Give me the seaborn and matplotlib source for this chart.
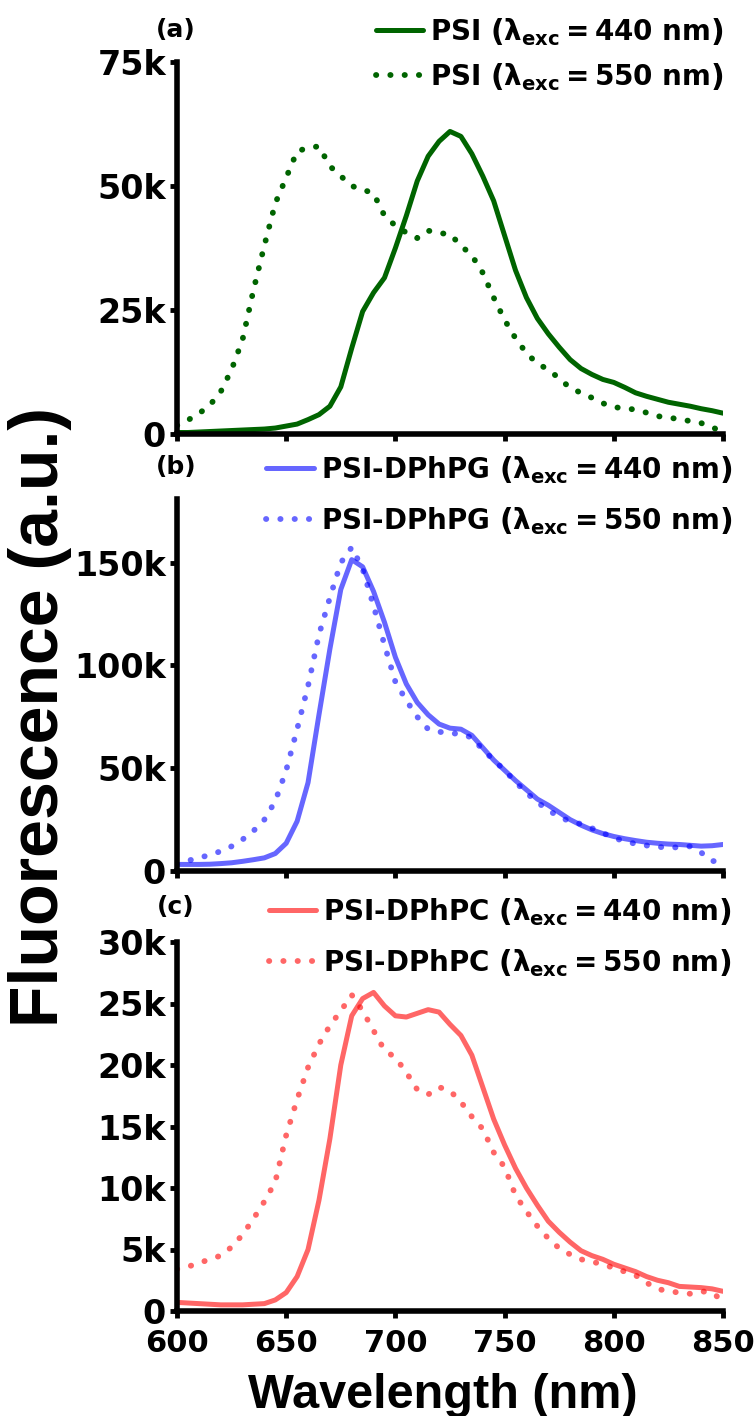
import numpy as np
import pandas as pd
import matplotlib
matplotlib.use("Agg")
import matplotlib.pyplot as plt
from matplotlib.ticker import FuncFormatter
import seaborn as sns

# ---------------- data ----------------
wavelength = list(range(600, 851, 5))

psi_440 = [0.3, 0.3, 0.4, 0.5, 0.6, 0.7, 0.8, 0.9, 1.0, 1.2, 1.6, 2.0, 2.9, 3.9, 5.6, 9.5,
           17.3, 24.7, 28.5, 31.5, 37.5, 44, 51, 56, 59, 61, 60, 56.5, 52, 47, 40, 33,
           27.5, 23.3, 20.2, 17.5, 15, 13.2, 12, 11, 10.4, 9.4, 8.3, 7.6, 7, 6.4, 6, 5.6,
           5.1, 4.7, 4.2]
psi_550 = [1.7, 2.8, 4.1, 5.8, 8.5, 13, 19, 29, 38, 46.5, 51.7, 57, 57.7, 58, 54, 52, 50,
           49.3, 48.5, 44, 42, 40.6, 39.5, 41, 40.5, 40.3, 38, 36, 32.5, 27.5, 23, 19.3,
           16.3, 14.2, 13, 11.2, 9.3, 8.3, 7.3, 6.2, 5.4, 5.2, 4.9, 4.3, 3.6, 3.3, 3.0,
           2.6, 2.2, 1.4, 0.3]

pg_440 = [3.2, 3.2, 3.2, 3.3, 3.6, 4.0, 4.7, 5.5, 6.4, 8.5, 13.5, 24.2, 43, 76, 108, 137,
          151.5, 148, 136, 121, 104, 91, 82, 76, 71.5, 69.5, 69, 66, 60, 54, 49, 44, 39.5,
          35, 32, 28.5, 25, 22.3, 20, 18.2, 16.8, 15.7, 14.8, 14, 13.5, 13.1, 12.9, 12.5,
          12.1, 12.3, 12.9]
pg_550 = [3.2, 5, 6.4, 7.8, 9.6, 12, 15.3, 19.5, 25, 34, 49, 69, 90, 115, 133, 150, 157.5,
          147, 129, 110, 92, 83, 75, 69, 67.7, 67.2, 66.5, 65, 59, 54, 49, 43.3, 38, 33.5,
          29.5, 26.5, 24, 22.9, 20.8, 18.5, 16.1, 14.5, 13.2, 12.4, 11.8, 11.3, 11.6, 12,
          9, 4.8, 5]

pc_440 = [0.7, 0.65, 0.6, 0.55, 0.5, 0.5, 0.5, 0.55, 0.6, 0.9, 1.5, 2.8, 5, 9, 14, 20, 24,
          25.4, 25.9, 24.8, 24, 23.9, 24.2, 24.5, 24.3, 23.3, 22.4, 20.8, 18.2, 15.6, 13.5,
          11.6, 10, 8.6, 7.3, 6.4, 5.6, 4.9, 4.5, 4.2, 3.8, 3.5, 3.2, 2.8, 2.5, 2.3, 2,
          1.95, 1.9, 1.8, 1.6]
pc_550 = [3.4, 3.6, 3.9, 4.2, 4.5, 5.2, 6.2, 7.5, 8.9, 10.5, 14.3, 17.2, 19.8, 21.7, 23.2,
          24.4, 25.7, 24.4, 22.8, 21.2, 20.6, 19.4, 18, 17.6, 18.2, 17.9, 17, 15.8, 14.8,
          12.9, 11.7, 9.4, 8.1, 6.9, 5.9, 5.1, 4.6, 4.2, 4.0, 3.8, 3.5, 3.2, 2.9, 2.3, 1.8,
          1.6, 1.5, 1.4, 1.6, 1.5, 0.8]

sample_names = ["PSI", "PSI-DPhPG", "PSI-DPhPC"]
panel_labels = ["(a)", "(b)", "(c)"]
y_ticks = [[0, 25, 50, 75], [0, 50, 100, 150], [0, 5, 10, 15, 20, 25, 30]]
y_lims = [(0, 75), (0, 181), (0, 30)]
x_ticks = [600, 650, 700, 750, 800, 850]

# ---------------- style ----------------
sns.set_style("ticks")
plt.rcParams["font.family"] = ["Liberation Sans", "DejaVu Sans"]
plt.rcParams["font.weight"] = "bold"
for key in ["text.color", "axes.edgecolor", "axes.labelcolor", "xtick.color", "ytick.color"]:
    plt.rcParams[key] = "black"
plt.rcParams["mathtext.fontset"] = "custom"
plt.rcParams["mathtext.rm"] = "DejaVu Sans:bold"
plt.rcParams["mathtext.bf"] = "DejaVu Sans:bold"
plt.rcParams["mathtext.it"] = "DejaVu Sans:bold"
plt.rcParams["mathtext.sf"] = "DejaVu Sans:bold"

colors = ["#006400", "blue", "red"]
alphas = [1.0, 0.6, 0.6]
series = [(psi_440, psi_550), (pg_440, pg_550), (pc_440, pc_550)]

W, H = 755, 1416
fig = plt.figure(figsize=(W / 100, H / 100), dpi=100)
left, right = 177 / W, 723 / W
panels_px = [(62, 434), (499, 871), (942, 1311)]
legend_px = [(724, 16), (732, 454), (732, 896)]
legend_sp = [0.5, 0.72, 0.72]
label_px = [(176, 30), (176, 467), (176, 907)]

fmt = FuncFormatter(lambda v, p: "0" if v == 0 else f"{int(v)}k")

for i, (top, bot) in enumerate(panels_px):
    ax = fig.add_axes([left, 1 - bot / H, right - left, (bot - top) / H])
    s440, s550 = series[i]
    df = pd.DataFrame({"wl": wavelength, "v440": s440, "v550": s550})
    sns.lineplot(data=df, x="wl", y="v440", ax=ax, color=colors[i], alpha=alphas[i],
                 linewidth=3.6, label=sample_names[i] + r" $\left(\lambda_{exc} = 440\ nm\right)$")
    sns.lineplot(data=df, x="wl", y="v550", ax=ax, color=colors[i], alpha=alphas[i],
                 linewidth=4.2, linestyle=(0, (0.05, 2.4)), dash_capstyle="round",
                 label=sample_names[i] + r" $\left(\lambda_{exc} = 550\ nm\right)$")
    ax.set_xlim(600, 850)
    ax.set_ylim(*y_lims[i])
    ax.set_xticks(x_ticks)
    ax.set_yticks(y_ticks[i])
    ax.yaxis.set_major_formatter(fmt)
    ax.set_xlabel("")
    ax.set_ylabel("")
    for sp in ["top", "right"]:
        ax.spines[sp].set_visible(False)
    for sp in ["left", "bottom"]:
        ax.spines[sp].set_linewidth(4)
        ax.spines[sp].set_color("black")
    ax.tick_params(direction="out", length=5, width=3.5, pad=3, color="black",
                   labelcolor="black")
    for lab in ax.get_yticklabels():
        lab.set_fontfamily("DejaVu Sans")
        lab.set_fontweight("bold")
        lab.set_fontsize(24)
    if i < 2:
        ax.tick_params(axis="x", labelbottom=False)
    else:
        ax.tick_params(axis="x", pad=8)
        for lab in ax.get_xticklabels():
            lab.set_fontfamily("DejaVu Sans")
            lab.set_fontweight("bold")
            lab.set_fontsize(22)
    lx, ly = legend_px[i]
    leg = ax.legend(loc="upper right", bbox_to_anchor=(lx / W, 1 - ly / H),
                    bbox_transform=fig.transFigure, frameon=False,
                    prop={"family": "DejaVu Sans", "weight": "bold", "size": 20},
                    handlelength=1.7, handletextpad=0.25, labelspacing=legend_sp[i],
                    borderaxespad=0, borderpad=0)
    for t in leg.get_texts():
        t.set_color("black")
    px, py = label_px[i]
    fig.text(px / W, 1 - py / H, panel_labels[i], fontsize=18, fontweight="bold",
             family="DejaVu Sans", ha="center", va="center", color="black")

fig.text(40 / W, 1 - 717 / H, "Fluorescence (a.u.)", rotation=90, fontsize=49,
         fontweight="bold", ha="center", va="center", color="black")
fig.text(443 / W, 1 - 1408 / H, "Wavelength (nm)", fontsize=35, fontweight="bold",
         ha="center", va="baseline", color="black")

fig.savefig("out.png", dpi=100)
